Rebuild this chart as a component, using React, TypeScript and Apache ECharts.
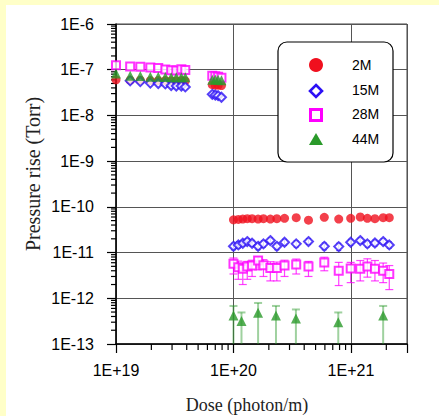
import React, { useEffect, useRef } from 'react';
import * as echarts from 'echarts';

// ---- labels ----
const seriesNames = ['2M', '15M', '28M', '44M'];
const seriesColors = ['#f0101e', '#2c10f5', '#ff00ff', '#2a9a2a'];
const xTickExponents = [19, 20, 21];
const yTickExponents = [-13, -12, -11, -10, -9, -8, -7, -6];
const minorMultipliers = [2, 3, 4, 5, 6, 7, 8, 9];
const xTitle = 'Dose (photon/m)';
const yTitle = 'Pressure rise (Torr)';

// ---- dose positions ----
const lowDose = [1.0e19, 1.32e19, 1.61e19, 1.96e19, 2.29e19, 2.63e19, 2.95e19, 3.26e19, 3.6e19, 3.89e19];
const lowDose15 = [1.32e19, 1.61e19, 1.96e19, 2.29e19, 2.63e19, 2.95e19, 3.26e19, 3.6e19, 3.89e19];
const clusterDose = [6.6e19, 7.0e19, 7.4e19, 7.9e19];
const highDose = [1.0e20, 1.1e20, 1.2e20, 1.31e20, 1.44e20, 1.62e20, 1.8e20, 2.06e20, 2.34e20, 2.72e20,
  3.42e20, 4.35e20, 5.93e20, 7.87e20, 9.95e20, 1.2e21, 1.38e21, 1.6e21, 1.88e21, 2.12e21];
const triDose = [1.0e20, 1.17e20, 1.62e20, 2.3e20, 3.4e20, 7.8e20, 1.88e21];

// ---- 2M ----
const p2mLow = [6.0e-8, 5.9e-8, 5.9e-8, 5.8e-8, 5.8e-8, 5.8e-8, 5.7e-8, 5.7e-8, 5.8e-8, 5.7e-8];
const p2mCluster = [4.7e-8, 4.6e-8, 4.6e-8, 4.5e-8];
const p2mHigh = [5.2e-11, 5.3e-11, 5.4e-11, 5.5e-11, 5.5e-11, 5.4e-11, 5.5e-11, 5.4e-11, 5.5e-11, 5.6e-11,
  5.8e-11, 5.1e-11, 5.9e-11, 5.4e-11, 5.6e-11, 6.0e-11, 5.6e-11, 5.5e-11, 5.8e-11, 5.8e-11];

// ---- 15M ----
const p15Low = [5.7e-8, 5.5e-8, 5.1e-8, 5.0e-8, 4.9e-8, 4.5e-8, 4.4e-8, 4.4e-8, 4.2e-8];
const p15Cluster = [2.9e-8, 2.8e-8, 2.7e-8, 2.5e-8];
const p15High = [1.37e-11, 1.47e-11, 1.6e-11, 1.74e-11, 1.6e-11, 1.37e-11, 1.55e-11, 1.83e-11, 1.37e-11, 1.68e-11,
  1.55e-11, 1.74e-11, 1.37e-11, 1.35e-11, 1.68e-11, 1.83e-11, 1.55e-11, 1.62e-11, 1.74e-11, 1.47e-11];
const p15HighErrLo = [1.15e-11, 1.25e-11, 1.37e-11, 1.5e-11, 1.37e-11, 1.15e-11, 1.32e-11, 1.58e-11, 1.15e-11, 1.44e-11,
  1.32e-11, 1.5e-11, 1.15e-11, 1.1e-11, 1.44e-11, 1.58e-11, 1.32e-11, 1.38e-11, 1.5e-11, 1.25e-11];
const p15HighErrHi = [1.6e-11, 1.72e-11, 1.86e-11, 2.02e-11, 1.86e-11, 1.6e-11, 1.8e-11, 2.1e-11, 1.6e-11, 1.95e-11,
  1.8e-11, 2.02e-11, 1.62e-11, 1.6e-11, 1.95e-11, 2.1e-11, 1.8e-11, 1.88e-11, 2.02e-11, 1.72e-11];

// ---- 28M ----
const p28Low = [1.25e-7, 1.17e-7, 1.16e-7, 1.12e-7, 1.09e-7, 1.01e-7, 0.97e-7, 0.96e-7, 1.03e-7, 0.98e-7];
const p28Cluster = [7.4e-8, 7.2e-8, 7.0e-8, 6.7e-8];
const p28High = [5.66e-12, 4.8e-12, 4.4e-12, 4.94e-12, 5.2e-12, 6.68e-12, 5.3e-12, 4.6e-12, 4.6e-12, 5.2e-12,
  5.46e-12, 4.94e-12, 6.1e-12, 4.0e-12, 4.5e-12, 4.4e-12, 4.94e-12, 4.4e-12, 4.0e-12, 3.4e-12];
const p28HighErrLo = [3.4e-12, 2.6e-12, 2.0e-12, 2.6e-12, 3.0e-12, 4.2e-12, 3.0e-12, 2.4e-12, 2.4e-12, 3.0e-12,
  3.4e-12, 3.0e-12, 4.0e-12, 1.9e-12, 2.2e-12, 2.4e-12, 2.9e-12, 2.4e-12, 2.2e-12, 1.55e-12];
const p28HighErrHi = [7.6e-12, 6.5e-12, 5.7e-12, 6.4e-12, 6.8e-12, 8.0e-12, 7.0e-12, 6.3e-12, 6.2e-12, 6.8e-12,
  7.2e-12, 6.4e-12, 7.9e-12, 6.1e-12, 6.1e-12, 6.7e-12, 7.3e-12, 6.7e-12, 5.9e-12, 5.2e-12];

// ---- 44M ----
const p44Low = [8.3e-8, 7.4e-8, 7.3e-8, 7.0e-8, 7.0e-8, 6.9e-8, 6.8e-8, 6.8e-8, 6.8e-8, 6.8e-8];
const p44Cluster = [6.0e-8, 6.1e-8, 6.0e-8, 5.9e-8];
const p44High = [4.2e-13, 3.2e-13, 4.8e-13, 4.2e-13, 3.6e-13, 3.0e-13, 4.2e-13];
const p44HighErrLo = [1e-14, 1e-14, 1e-14, 1e-14, 1e-14, 1e-14, 1e-14];
const p44HighErrHi = [6.8e-13, 4.9e-13, 7.9e-13, 6.8e-13, 5.7e-13, 4.9e-13, 6.8e-13];

const X_MIN = 19;
const X_MAX = Math.log10(3e21);
const Y_MIN = -13;
const Y_MAX = -6;

const lg = (v: number) => Math.log10(v);
const pts = (xs: number[], ys: number[]) => xs.map((x, i) => [lg(x), lg(ys[i])]);
const errs = (xs: number[], lo: number[], hi: number[]) => xs.map((x, i) => [lg(x), lg(lo[i]), lg(hi[i])]);

const errRender = (capW: number, color: string, width: number, opacity: number) =>
  (params: any, api: any) => {
    const x = api.value(0);
    const a = api.coord([x, api.value(2)]);
    const b = api.coord([x, api.value(1)]);
    const style = { stroke: color, lineWidth: width, opacity };
    return {
      type: 'group',
      children: [
        { type: 'line', shape: { x1: a[0], y1: a[1], x2: b[0], y2: b[1] }, style },
        { type: 'line', shape: { x1: a[0] - capW / 2, y1: a[1], x2: a[0] + capW / 2, y2: a[1] }, style },
        { type: 'line', shape: { x1: b[0] - capW / 2, y1: b[1], x2: b[0] + capW / 2, y2: b[1] }, style },
      ],
    };
  };

export default function App() {
  const ref = useRef<HTMLDivElement>(null);
  useEffect(() => {
    if (!ref.current) return;
    const chart = echarts.init(ref.current, null, { renderer: 'svg' });

    const xMinor: number[][] = [];
    xTickExponents.forEach((e) => {
      minorMultipliers.forEach((m) => {
        const v = e + lg(m);
        if (v < X_MAX - 1e-6) xMinor.push([v]);
      });
    });
    const yMinor: number[][] = [];
    yTickExponents.forEach((e) => {
      minorMultipliers.forEach((m) => {
        const v = e + lg(m);
        if (v < Y_MAX) yMinor.push([v]);
      });
    });

    const markerSeries = (name: string, data: number[][], symbol: string, size: number, idx: number, hollow: boolean) => ({
      type: 'scatter',
      name,
      data,
      symbol,
      symbolSize: size,
      itemStyle: hollow
        ? { color: '#ffffff', borderColor: seriesColors[idx], borderWidth: 2 }
        : { color: seriesColors[idx] },
      z: 5 + idx,
      silent: true,
    });

    const LZ = 100;
    const legendChildren: any[] = [
      { type: 'rect', z: LZ, shape: { x: 278, y: 42, width: 115, height: 120, r: 9 }, style: { fill: '#fff', stroke: '#000', lineWidth: 1.2 } },
      { type: 'circle', z: LZ + 1, shape: { cx: 316, cy: 65, r: 7 }, style: { fill: seriesColors[0] } },
      { type: 'polygon', z: LZ + 1, shape: { points: [[316, 85], [322, 91], [316, 97], [310, 91]] }, style: { fill: '#fff', stroke: seriesColors[1], lineWidth: 2.6 } },
      { type: 'rect', z: LZ + 1, shape: { x: 310.5, y: 109.5, width: 11, height: 11 }, style: { fill: '#fff', stroke: seriesColors[2], lineWidth: 3 } },
      { type: 'polygon', z: LZ + 1, shape: { points: [[316, 133], [323, 145], [309, 145]] }, style: { fill: seriesColors[3] } },
    ];
    seriesNames.forEach((n, i) => {
      legendChildren.push({
        type: 'text', z: LZ + 1, x: 352, y: 65 + i * 24.7,
        style: { text: n, fill: '#000', font: '14px "Liberation Sans", Arial, sans-serif', verticalAlign: 'middle', align: 'left' },
      });
    });

    chart.setOption({
      animation: false,
      backgroundColor: 'transparent',
      grid: { left: 116, top: 24, width: 291, height: 320, show: true, borderColor: '#444', borderWidth: 1, backgroundColor: 'transparent' },
      xAxis: {
        type: 'value', min: X_MIN, max: X_MAX, interval: 1,
        axisLine: { show: true, lineStyle: { color: '#000', width: 1.5 } },
        axisTick: { show: true, length: 9, inside: false, lineStyle: { color: '#000', width: 1.2 } },
        axisLabel: {
          margin: 18, color: '#000', fontSize: 16, fontFamily: '"Liberation Sans", Arial, sans-serif',
          formatter: (v: number) => (xTickExponents.includes(Math.round(v)) && Math.abs(v - Math.round(v)) < 1e-6 ? `1E+${Math.round(v)}` : ''),
        },
        splitLine: { show: true, lineStyle: { color: '#555', width: 1 } },
      },
      yAxis: {
        type: 'value', min: Y_MIN, max: Y_MAX, interval: 1,
        axisLine: { show: true, lineStyle: { color: '#000', width: 1.5 } },
        axisTick: { show: true, length: 9, inside: false, lineStyle: { color: '#000', width: 1.2 } },
        axisLabel: {
          margin: 22, color: '#000', fontSize: 16, fontFamily: '"Liberation Sans", Arial, sans-serif',
          formatter: (v: number) => `1E${Math.round(v)}`,
        },
        splitLine: { show: true, lineStyle: { color: '#555', width: 1 } },
      },
      graphic: [
        {
          type: 'text', x: 33, y: 174, rotation: Math.PI / 2,
          style: { text: yTitle, fill: '#222', font: '20px "Liberation Serif", "Times New Roman", serif', align: 'center', verticalAlign: 'middle' },
        },
        {
          type: 'text', x: 247, y: 405,
          style: { text: xTitle, fill: '#222', font: '18px "Liberation Serif", "Times New Roman", serif', align: 'center', verticalAlign: 'middle' },
        },
        ...legendChildren,
      ],
      series: [
        {
          type: 'custom', silent: true, clip: false, z: 3,
          data: xMinor,
          renderItem: (params: any, api: any) => {
            const p = api.coord([api.value(0), Y_MIN]);
            return { type: 'line', shape: { x1: p[0], y1: p[1], x2: p[0], y2: p[1] + 6 }, style: { stroke: '#000', lineWidth: 1.2 } };
          },
        },
        {
          type: 'custom', silent: true, clip: false, z: 3,
          data: yMinor,
          renderItem: (params: any, api: any) => {
            const p = api.coord([X_MIN, api.value(0)]);
            return { type: 'line', shape: { x1: p[0] - 5, y1: p[1], x2: p[0], y2: p[1] }, style: { stroke: '#000', lineWidth: 1.2 } };
          },
        },
        {
          type: 'custom', silent: true, clip: true, z: 4,
          data: errs(highDose, p15HighErrLo, p15HighErrHi),
          renderItem: errRender(5, seriesColors[1], 1, 0.8),
        },
        {
          type: 'custom', silent: true, clip: true, z: 4,
          data: errs(highDose, p28HighErrLo, p28HighErrHi),
          renderItem: errRender(8, seriesColors[2], 1.2, 0.75),
        },
        {
          type: 'custom', silent: true, clip: true, z: 4,
          data: errs(triDose, p44HighErrLo, p44HighErrHi),
          renderItem: errRender(8, seriesColors[3], 2, 0.45),
        },
        markerSeries(seriesNames[0], [...pts(lowDose, p2mLow), ...pts(clusterDose, p2mCluster), ...pts(highDose, p2mHigh)], 'circle', 9, 0, false),
        markerSeries(seriesNames[1], [...pts(lowDose15, p15Low), ...pts(clusterDose, p15Cluster), ...pts(highDose, p15High)], 'diamond', 9, 1, true),
        markerSeries(seriesNames[2], [...pts(lowDose, p28Low), ...pts(clusterDose, p28Cluster), ...pts(highDose, p28High)], 'rect', 8, 2, true),
        markerSeries(seriesNames[3], [...pts(lowDose, p44Low), ...pts(clusterDose, p44Cluster), ...pts(triDose, p44High)], 'triangle', 10, 3, false),
      ],
    });
    return () => chart.dispose();
  }, []);

  return (
    <div style={{ position: 'fixed', left: 0, top: 0, width: 439, height: 416, background: '#ffffc8' }}>
      <div style={{ position: 'absolute', left: 6, top: 5, width: 433, height: 411, background: '#ffffff' }} />
      <div ref={ref} style={{ position: 'absolute', left: 0, top: 0, width: 439, height: 416 }} />
    </div>
  );
}
